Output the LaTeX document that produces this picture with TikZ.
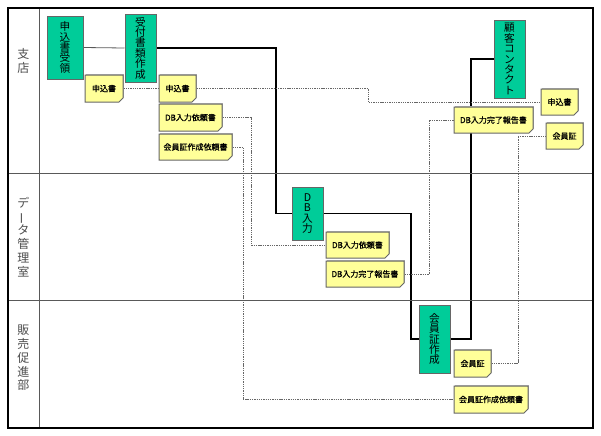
\documentclass[tikz,border=0pt]{standalone}
\usepackage{fontspec}
\setmainfont{Noto Sans CJK JP}
\newfontface\memofont{Noto Sans CJK JP}[FakeBold=1]
\usetikzlibrary{shapes.misc,backgrounds,shadows}
\definecolor{taskgreen}{RGB}{0,204,153}
\definecolor{memoyellow}{RGB}{255,255,153}
\tikzset{every picture/.style={line width=0.75pt}}
\tikzset{
sz/.style 2 args={minimum width=#1*0.75pt, minimum height=#2*0.75pt},
task/.style={draw=gray!80!black, fill=taskgreen, inner sep=0pt, align=center, font=\fontsize{8}{7.8}\selectfont},
memo/.style={chamfered rectangle, chamfered rectangle corners=south east, chamfered rectangle xsep=1.5pt, chamfered rectangle ysep=1.5pt, draw=gray!80!black, fill=memoyellow, inner sep=0pt, font=\fontsize{6}{7}\memofont, drop shadow={shadow xshift=0.6pt, shadow yshift=0.6pt, fill=gray!60, opacity=1}},
lanelabel/.style={align=center, inner sep=0pt, font=\fontsize{9}{10.3}\selectfont, text=black!70},
flow/.style={line width=1.1pt, black},
docflow/.style={black!60, line width=0.5pt, dash pattern=on 1pt off 0.7pt},
lane/.style={gray!70!black, line width=0.6pt}
}

\begin{document}
\begin{tikzpicture}[x=0.75pt,y=0.75pt,yscale=-1,xscale=1]
\useasboundingbox (0,0) rectangle (601,436);

%Lanes
\draw[lane] (39,8) -- (39,428);
\draw[lane] (8,173) -- (593,173);
\draw[lane] (8,300) -- (593,300);
%Frame
\draw[line width=1.5pt] (8,8) rectangle (593,428);

%Lane labels
\node[lanelabel] (shiten) at (23.5,61) {支\\店};
\node[lanelabel] (datakanri) at (23.5,237) {デ\\\rotatebox[origin=c]{90}{ー}\\タ\\管\\理\\室};
\node[lanelabel] (hanbai) at (23.5,358) {販\\売\\促\\進\\部};

%Tasks
\node[task, sz={36}{63}] (juryo) at (65,47.5) {申\\込\\書\\受\\領};
\node[task, sz={31}{68}] (uketsuke) at (140.5,48) {受\\付\\書\\類\\作\\成};
\node[task, sz={31}{78}] (kokyaku) at (509.5,59) {顧\\客\\コ\\ン\\タ\\ク\\ト};
\node[task, sz={31}{53}] (dbnyu) at (307.5,213.5) {D\\B\\入\\力};
\node[task, sz={31}{68}] (kaiin) at (434.5,339) {会\\員\\証\\作\\成};

%Documents
\node[memo, sz={38}{27}] (mo1) at (104,88.5) {申込書};
\node[memo, sz={37}{27}] (mo2) at (177.5,88.5) {申込書};
\node[memo, sz={63}{27}] (dbirai1) at (190.5,117.5) {DB入力依頼書};
\node[memo, sz={73}{26}] (kirai1) at (195.5,147) {会員証作成依頼書};
\node[memo, sz={37}{26}] (mo3) at (559.5,102) {申込書};
\node[memo, sz={79}{26}] (dbkanryo1) at (493.5,120) {DB入力完了報告書};
\node[memo, sz={37}{26}] (card1) at (564.5,136) {会員証};
\node[memo, sz={63}{26}] (dbirai2) at (357.5,245) {DB入力依頼書};
\node[memo, sz={78}{26}] (dbkanryo2) at (365,274) {DB入力完了報告書};
\node[memo, sz={37}{27}] (card2) at (472.5,363.5) {会員証};
\node[memo, sz={74}{27}] (kirai2) at (491,399.5) {会員証作成依頼書};

%Bends
\coordinate (k1) at (276,0);
\coordinate (k2) at (411,0);
\coordinate (k3) at (471,0);
\coordinate (d1) at (368,0);
\coordinate (d2) at (251,0);
\coordinate (d3) at (243,0);
\coordinate (d4) at (429,0);
\coordinate (d5) at (518,0);

\begin{scope}[on background layer]
%Process flow
\draw[lane] (juryo.east) -- (uketsuke.west);
\draw[flow] (uketsuke.east) -- (uketsuke.east -| k1) |- (dbnyu.west);
\draw[flow] (dbnyu.east) -- (dbnyu.east -| k2) |- (kaiin.west);
\draw[flow] (kaiin.east) -- (kaiin.east -| k3) |- (kokyaku.west);
%Document flow
\draw[docflow] (mo1.east) -- (mo2.west);
\draw[docflow] (mo2.east) -- (mo2.east -| d1) |- (mo3.west);
\draw[docflow] (dbirai1.east) -- (dbirai1.east -| d2) |- (dbirai2.west);
\draw[docflow] (kirai1.east) -- (kirai1.east -| d3) |- (kirai2.west);
\draw[docflow] (dbkanryo2.east) -- (dbkanryo2.east -| d4) |- (dbkanryo1.west);
\draw[docflow] (card2.east) -- (card2.east -| d5) |- (card1.west);
\end{scope}

\end{tikzpicture}
\end{document}
